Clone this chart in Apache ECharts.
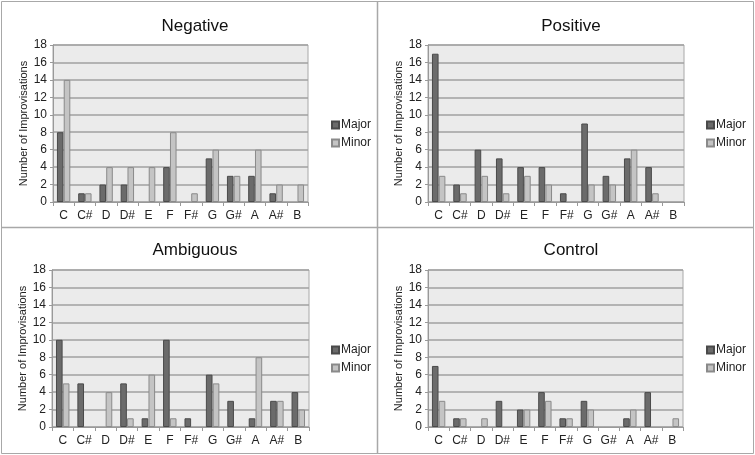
<!DOCTYPE html>
<html><head><meta charset="utf-8">
<script src="https://cdn.jsdelivr.net/npm/echarts@6/dist/echarts.min.js"></script>
<style>html,body{margin:0;padding:0;background:#fff}#c{width:755px;height:455px}</style>
</head><body><div id="c"></div>
<script>
const categories = ['C','C#','D','D#','E','F','F#','G','G#','A','A#','B'];
const yTicks = [0,2,4,6,8,10,12,14,16,18];
const panelTitles = ['Negative','Positive','Ambiguous','Control'];
const negativeMajor = [8,1,2,2,0,4,0,5,3,3,1,0];
const negativeMinor = [14,1,4,4,4,8,1,6,3,6,2,2];
const positiveMajor = [17,2,6,5,4,4,1,9,3,5,4,0];
const positiveMinor = [3,1,3,1,3,2,0,2,2,6,1,0];
const ambiguousMajor = [10,5,0,5,1,10,1,6,3,1,3,4];
const ambiguousMinor = [5,0,4,1,6,1,0,5,0,8,3,2];
const controlMajor = [7,1,0,3,2,4,1,3,0,1,4,0];
const controlMinor = [3,1,1,0,2,3,1,2,0,2,0,1];

const majors = [negativeMajor, positiveMajor, ambiguousMajor, controlMajor];
const minors = [negativeMinor, positiveMinor, ambiguousMinor, controlMinor];

const FONT = '"Liberation Sans", Arial, sans-serif';
const layout = [
  {left:53, top:45, width:255, height:157, lx:326, ly:114, tx:190, ty:13},
  {left:428, top:45, width:256, height:157, lx:701, ly:114, tx:566, ty:13},
  {left:52, top:270, width:257, height:157, lx:326, ly:339, tx:190, ty:237},
  {left:428, top:270, width:255, height:157, lx:701, ly:339, tx:566, ty:237}
];

function prep(arr){
  return arr.map(v => v === 0 ? {value:0, itemStyle:{borderWidth:0}} : v);
}

const grids = [], xAxes = [], yAxes = [], series = [], titles = [], legends = [];
layout.forEach((L, i) => {
  grids.push({left:L.left, top:L.top, width:L.width, height:L.height, show:true,
    backgroundColor:'#ebebeb', borderColor:'#a8a8a8', borderWidth:1});
  xAxes.push({type:'category', gridIndex:i, data:categories,
    axisLine:{show:true, lineStyle:{color:'#999', width:1}},
    axisTick:{show:true, length:4, lineStyle:{color:'#999'}},
    axisLabel:{color:'#222', fontSize:12, fontFamily:FONT, margin:8, interval:0}});
  yAxes.push({type:'value', gridIndex:i, min:0, max:yTicks[yTicks.length-1], interval:yTicks[1]-yTicks[0],
    name:'Number of Improvisations', nameLocation:'middle', nameGap:21,
    nameTextStyle:{color:'#222', fontSize:11, fontFamily:FONT},
    axisLine:{show:true, lineStyle:{color:'#999'}},
    axisTick:{show:true, length:3, inside:false, lineStyle:{color:'#999'}},
    axisLabel:{color:'#222', fontSize:12, fontFamily:FONT, margin:6},
    splitLine:{show:true, lineStyle:{color:'#a0a0a0', width:1.5}}});
  titles.push({text:panelTitles[i], left:L.tx, top:L.ty, textAlign:'center',
    textStyle:{fontSize:17, fontWeight:'normal', color:'#111', fontFamily:FONT}});
  legends.push({data:['Major','Minor'], orient:'vertical', left:L.lx, top:L.ly,
    itemWidth:7, itemHeight:7, itemGap:6, icon:'rect',
    textStyle:{fontSize:12, color:'#222', fontFamily:FONT, padding:[0,0,0,-3]}});
  series.push({name:'Major', type:'bar', xAxisIndex:i, yAxisIndex:i, data:prep(majors[i]),
    barWidth:'31%', barGap:'3%',
    itemStyle:{color:'#6b6b6b', borderColor:'#4a4a4a', borderWidth:1}});
  series.push({name:'Minor', type:'bar', xAxisIndex:i, yAxisIndex:i, data:prep(minors[i]),
    barWidth:'31%', barGap:'3%',
    itemStyle:{color:'#c4c4c4', borderColor:'#8a8a8a', borderWidth:1}});
});
const chart = echarts.init(document.getElementById('c'), null, {renderer:'canvas'});
chart.setOption({
  animation:false,
  backgroundColor:'#fff',
  title:titles, legend:legends, grid:grids, xAxis:xAxes, yAxis:yAxes, series:series,
  graphic:[
    {type:'rect', shape:{x:1.5, y:1.5, width:752, height:452}, style:{fill:'none', stroke:'#a8a8a8', lineWidth:1}, silent:true},
    {type:'line', shape:{x1:377.5, y1:1, x2:377.5, y2:454}, style:{stroke:'#a8a8a8', lineWidth:1.5}, silent:true},
    {type:'line', shape:{x1:1, y1:227.5, x2:754, y2:227.5}, style:{stroke:'#a8a8a8', lineWidth:1.5}, silent:true}
  ]
});
</script></body></html>
